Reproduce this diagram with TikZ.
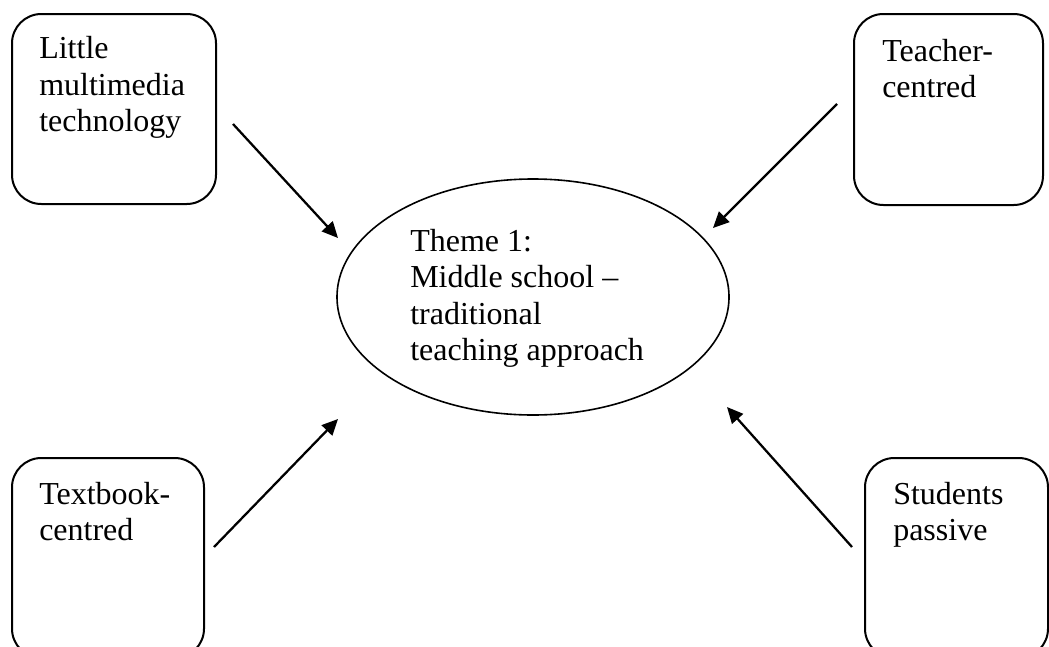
\documentclass[tikz,border=0pt]{standalone}
\usepackage{fontspec}
\setmainfont{Liberation Serif}
\usetikzlibrary{arrows.meta,shapes.geometric}
\begin{document}
\begin{tikzpicture}[x=0.75pt,y=-0.75pt,
  box/.style={draw, line width=1.5pt, rounded corners=22pt, anchor=north west, inner sep=0pt},
  lbl/.style={anchor=north west, inner sep=0pt, align=left, font=\fontsize{24}{27.4}\selectfont},
  theme/.style={draw, ellipse, line width=1.2pt, minimum width=294pt, minimum height=177pt, inner sep=0pt},
  conn/.style={line width=1.7pt, -{Triangle[length=12pt,width=11pt]}}]
\clip (0,0) rectangle (1049,646);
\fill[white] (0,0) rectangle (1049,646);
% boxes
\node[box, minimum width=153pt, minimum height=142.5pt] (tl) at (11,13) {};
\node[box, minimum width=141.75pt, minimum height=143.25pt] (tr) at (853,13) {};
\node[box, minimum width=144pt, minimum height=150pt] (bl) at (11,457) {};
\node[box, minimum width=137.25pt, minimum height=150pt] (br) at (864,457) {};
% labels
\node[lbl] (tlt) at (39,32.7) {\strut Little\\multimedia\\technology};
\node[lbl] (trt) at (882,35.4) {\strut Teacher-\\centred};
\node[lbl] (blt) at (39,478.4) {\strut Textbook-\\centred};
\node[lbl] (brt) at (893,478.4) {\strut Students\\passive};
% central ellipse
\node[theme] (th) at (533,297) {};
\node[lbl] (tht) at (410,225.4) {\strut Theme 1:\\Middle school --\\traditional\\teaching approach};
% connector ends
\coordinate (a1) at (233,124);
\coordinate (b1) at (338,238);
\coordinate (a2) at (837,104);
\coordinate (b2) at (713,228);
\coordinate (a3) at (214,547);
\coordinate (b3) at (338,419);
\coordinate (a4) at (852,547);
\coordinate (b4) at (727,407);
\draw[conn] (a1) -- (b1);
\draw[conn] (a2) -- (b2);
\draw[conn] (a3) -- (b3);
\draw[conn] (a4) -- (b4);
\end{tikzpicture}
\end{document}
